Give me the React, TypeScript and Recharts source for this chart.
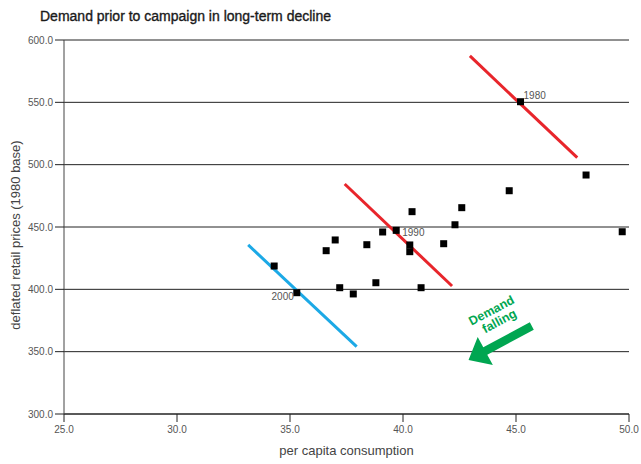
import React from 'react';
import {
  ScatterChart,
  Scatter,
  XAxis,
  YAxis,
  CartesianGrid,
  ReferenceLine,
  ReferenceDot,
} from 'recharts';

// Per capita consumption vs deflated retail price, one point per year
const consumption = [
  34.3, 35.3, 36.6, 37.0, 37.2, 37.8, 38.4, 38.8, 39.1, 39.7, 40.3,
  40.3, 40.4, 40.8, 41.8, 42.3, 42.6, 44.7, 45.2, 48.1, 49.7,
];
const price = [
  418.7, 397.3, 431.0, 439.6, 401.3, 396.3, 435.8, 405.3, 446.0, 447.3, 435.6,
  430.2, 462.3, 401.3, 436.6, 451.8, 465.5, 479.1, 550.5, 491.7, 446.2,
];
const yearLabels = [
  '', '2000', '', '', '', '', '', '', '', '1990', '',
  '', '', '', '', '', '', '', '1980', '', '',
];

// Demand curves for three decades
const demand1980 = [
  { x: 42.96, y: 587.2 },
  { x: 47.71, y: 505.6 },
];
const demand1990 = [
  { x: 37.42, y: 484.5 },
  { x: 42.17, y: 402.7 },
];
const demand2000 = [
  { x: 33.15, y: 435.6 },
  { x: 37.95, y: 354.0 },
];

// "Demand falling" arrow: tail then tip, and its caption anchor
const fallingArrow = [
  { x: 45.7, y: 370.6 },
  { x: 42.9, y: 343.3 },
];
const fallingCaption = { x: 44.0, y: 380.0, lines: ['Demand', 'falling'] };

const xTicks = [25, 30, 35, 40, 45, 50];
const yTicks = [300, 350, 400, 450, 500, 550, 600];

const points = consumption.map((x, i) => ({ x, y: price[i], year: yearLabels[i] }));

const FONT = '"Liberation Sans", Arial, Helvetica, sans-serif';
const RED = '#E8252B';
const BLUE = '#1CA9E6';
const GREEN = '#00A651';

const labelPlacement: Record<string, { anchor: 'start' | 'end'; dx: number; dy: number }> = {
  '1980': { anchor: 'start', dx: 3, dy: -3 },
  '1990': { anchor: 'start', dx: 6, dy: 5.5 },
  '2000': { anchor: 'end', dx: -3, dy: 7 },
};

const PointShape = (props: any) => {
  const { cx, cy, payload } = props;
  const place = payload && payload.year ? labelPlacement[payload.year] : null;
  return (
    <g>
      <rect x={cx - 3.5} y={cy - 3.5} width={7} height={7} fill="#000" />
      {place && (
        <text
          x={cx + place.dx}
          y={cy + place.dy}
          textAnchor={place.anchor}
          fontSize={10}
          fontFamily={FONT}
          fill="#555"
        >
          {payload.year}
        </text>
      )}
    </g>
  );
};

const ArrowShape = (props: any) => {
  const { x1, y1, x2, y2 } = props;
  const dx = x2 - x1;
  const dy = y2 - y1;
  const len = Math.sqrt(dx * dx + dy * dy) || 1;
  const ux = dx / len;
  const uy = dy / len;
  const nx = -uy;
  const ny = ux;
  const shaftHalf = 4.2;
  const headHalf = 16;
  const headLen = 19;
  const bx = x2 - ux * headLen;
  const by = y2 - uy * headLen;
  const pts = [
    [x1 + nx * shaftHalf, y1 + ny * shaftHalf],
    [bx + nx * shaftHalf, by + ny * shaftHalf],
    [bx + nx * headHalf, by + ny * headHalf],
    [x2, y2],
    [bx - nx * headHalf, by - ny * headHalf],
    [bx - nx * shaftHalf, by - ny * shaftHalf],
    [x1 - nx * shaftHalf, y1 - ny * shaftHalf],
  ]
    .map((p) => `${p[0]},${p[1]}`)
    .join(' ');
  return <polygon points={pts} fill={GREEN} />;
};

const CaptionShape = (props: any) => {
  const { cx, cy } = props;
  return (
    <text
      x={cx}
      y={cy}
      transform={`rotate(-28, ${cx}, ${cy})`}
      textAnchor="middle"
      fontSize={12.5}
      fontWeight="bold"
      fontFamily={FONT}
      fill={GREEN}
    >
      <tspan x={cx} dy={0}>{fallingCaption.lines[0]}</tspan>
      <tspan x={cx + 2} dy={13}>{fallingCaption.lines[1]}</tspan>
    </text>
  );
};

const YAxisTitle = (props: any) => {
  const vb = props.viewBox || {};
  const cx = (vb.x || 0) + 20;
  const cy = (vb.y || 0) + (vb.height || 0) / 2 + 8;
  return (
    <text
      x={cx}
      y={cy}
      transform={`rotate(-90, ${cx}, ${cy})`}
      textAnchor="middle"
      fontSize={13}
      fontFamily={FONT}
      fill="#444"
    >
      deflated retail prices (1980 base)
    </text>
  );
};

export default function App() {
  return (
    <div style={{ position: 'relative', width: 641, height: 464, fontFamily: FONT }}>
      <style>{'body { margin: 0; }'}</style>
      <div
        style={{
          position: 'absolute',
          left: 40,
          top: 9,
          fontSize: 14,
          lineHeight: '14px',
          color: '#1a1a1a',
          WebkitTextStroke: '0.35px #1a1a1a',
          whiteSpace: 'nowrap',
        }}
      >
        Demand prior to campaign in long-term decline
      </div>
      <ScatterChart
        width={641}
        height={464}
        margin={{ top: 40, right: 12, bottom: 0, left: 0 }}
        style={{ fontFamily: FONT }}
      >
        <CartesianGrid horizontal vertical={false} stroke="#222" strokeWidth={1} />
        <XAxis
          type="number"
          dataKey="x"
          domain={[25, 50]}
          ticks={xTicks}
          tickFormatter={(v: number) => v.toFixed(1)}
          tickSize={8}
          tickMargin={4}
          height={50}
          interval={0}
          axisLine={{ stroke: '#222' }}
          tickLine={{ stroke: '#222' }}
          tick={{ fontSize: 10, fill: '#555', fontFamily: FONT }}
          allowDataOverflow
          label={{
            value: 'per capita consumption',
            position: 'insideBottom',
            offset: 9,
            fontSize: 13,
            fill: '#444',
            fontFamily: FONT,
          }}
        />
        <YAxis
          type="number"
          dataKey="y"
          domain={[300, 600]}
          ticks={yTicks}
          tickFormatter={(v: number) => v.toFixed(1)}
          tickSize={9}
          tickMargin={2}
          width={64}
          interval={0}
          axisLine={{ stroke: '#444' }}
          tickLine={{ stroke: '#222' }}
          tick={{ fontSize: 10, fill: '#555', fontFamily: FONT }}
          allowDataOverflow
          label={{ content: YAxisTitle }}
        />
        <Scatter data={points} shape={PointShape} isAnimationActive={false} />
        <ReferenceLine segment={demand1980} stroke={RED} strokeWidth={3} />
        <ReferenceLine segment={demand1990} stroke={RED} strokeWidth={3} />
        <ReferenceLine segment={demand2000} stroke={BLUE} strokeWidth={3} />
        <ReferenceLine segment={fallingArrow} shape={ArrowShape} />
        <ReferenceDot x={fallingCaption.x} y={fallingCaption.y} r={0} shape={CaptionShape} />
      </ScatterChart>
    </div>
  );
}
